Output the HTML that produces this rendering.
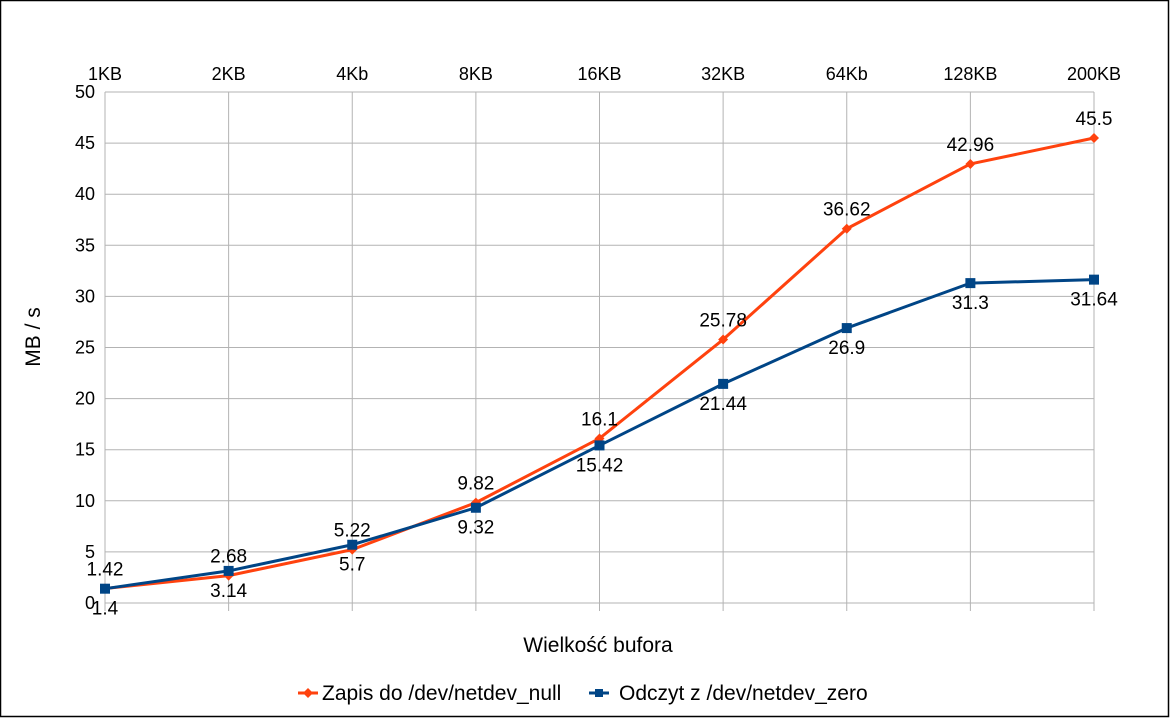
<!DOCTYPE html>
<html><head><meta charset="utf-8"><style>
html,body{margin:0;padding:0;background:#fff}
svg{display:block;font-family:"Liberation Sans",sans-serif}
</style></head><body>
<svg width="1170" height="718">
<rect x="0.5" y="0.5" width="1168" height="716" fill="#fff" stroke="#000" stroke-width="1.5"/>
<g id="grid"></g><g id="series"></g><g id="labels"></g>
<text x="40" y="337" font-size="21" text-anchor="middle" transform="rotate(-90 40 337)">MB / s</text>
<text x="598" y="652" font-size="21" text-anchor="middle">Wielkość bufora</text>
<g>
<g>
<line x1="298" y1="693" x2="318" y2="693" stroke="#ff420e" stroke-width="3"/>
<path d="M308 688 L313 693 L308 698 L303 693Z" fill="#ff420e"/>
<text x="322" y="700" font-size="21">Zapis do /dev/netdev_null</text></g>
<g>
<line x1="589" y1="693" x2="609" y2="693" stroke="#004586" stroke-width="3"/>
<rect x="595" y="689" width="8" height="8" fill="#004586"/>
<text x="619" y="700" font-size="21">Odczyt z /dev/netdev_zero</text></g>
</g>
</svg>
<script>
const categories=["1KB","2KB","4Kb","8KB","16KB","32KB","64Kb","128KB","200KB"];
const zapis=[1.42,2.68,5.22,9.82,16.1,25.78,36.62,42.96,45.5];
const odczyt=[1.4,3.14,5.7,9.32,15.42,21.44,26.9,31.3,31.64];
const yTicks=[0,5,10,15,20,25,30,35,40,45,50];
const NS="http://www.w3.org/2000/svg";
const X0=105,X1=1094,Y0=603,Y1=92;
const xs=i=>X0+(X1-X0)*i/(categories.length-1);
const ys=v=>Y0-(Y0-Y1)*v/50;
function mk(t,a,p){const e=document.createElementNS(NS,t);for(const k in a)e.setAttribute(k,a[k]);p.appendChild(e);return e;}
const g=document.getElementById('grid'),s=document.getElementById('series'),L=document.getElementById('labels');
yTicks.forEach(v=>{
 const l=mk('line',{x1:X0,x2:X1,y1:ys(v),y2:ys(v),stroke:'#b3b3b3','stroke-width':1},g);
 
 
 const t=mk('text',{x:X0-10,y:ys(v)+6,'font-size':18,'text-anchor':'end'},g);t.textContent=v;
 
 
});
categories.forEach((c,i)=>{
 const l=mk('line',{x1:xs(i),x2:xs(i),y1:Y1,y2:Y0+8,stroke:'#b3b3b3','stroke-width':1},g);
 
 
 const t=mk('text',{x:xs(i),y:80,'font-size':18,'text-anchor':'middle'},g);t.textContent=c;
 
 
});
function draw(data,color,name,marker,labelDy){
 const p=mk('polyline',{points:data.map((v,i)=>xs(i)+','+ys(v)).join(' '),fill:'none',stroke:color,'stroke-width':3,'stroke-linejoin':'round'},s);
 
 
 data.forEach((v,i)=>{
  const x=xs(i),y=ys(v);let m;
  if(marker==='diamond')m=mk('path',{d:`M${x} ${y-5}L${x+5} ${y}L${x} ${y+5}L${x-5} ${y}Z`,fill:color},s);
  else m=mk('rect',{x:x-5,y:y-5,width:10,height:10,fill:color},s);
  
  
  const t=mk('text',{x:x,y:y+labelDy,'font-size':19,'text-anchor':'middle'},L);t.textContent=v;
  
  
 });
}
draw(zapis,'#ff420e','zapis','diamond',-13);
draw(odczyt,'#004586','odczyt','square',26);
</script>
</body></html>
